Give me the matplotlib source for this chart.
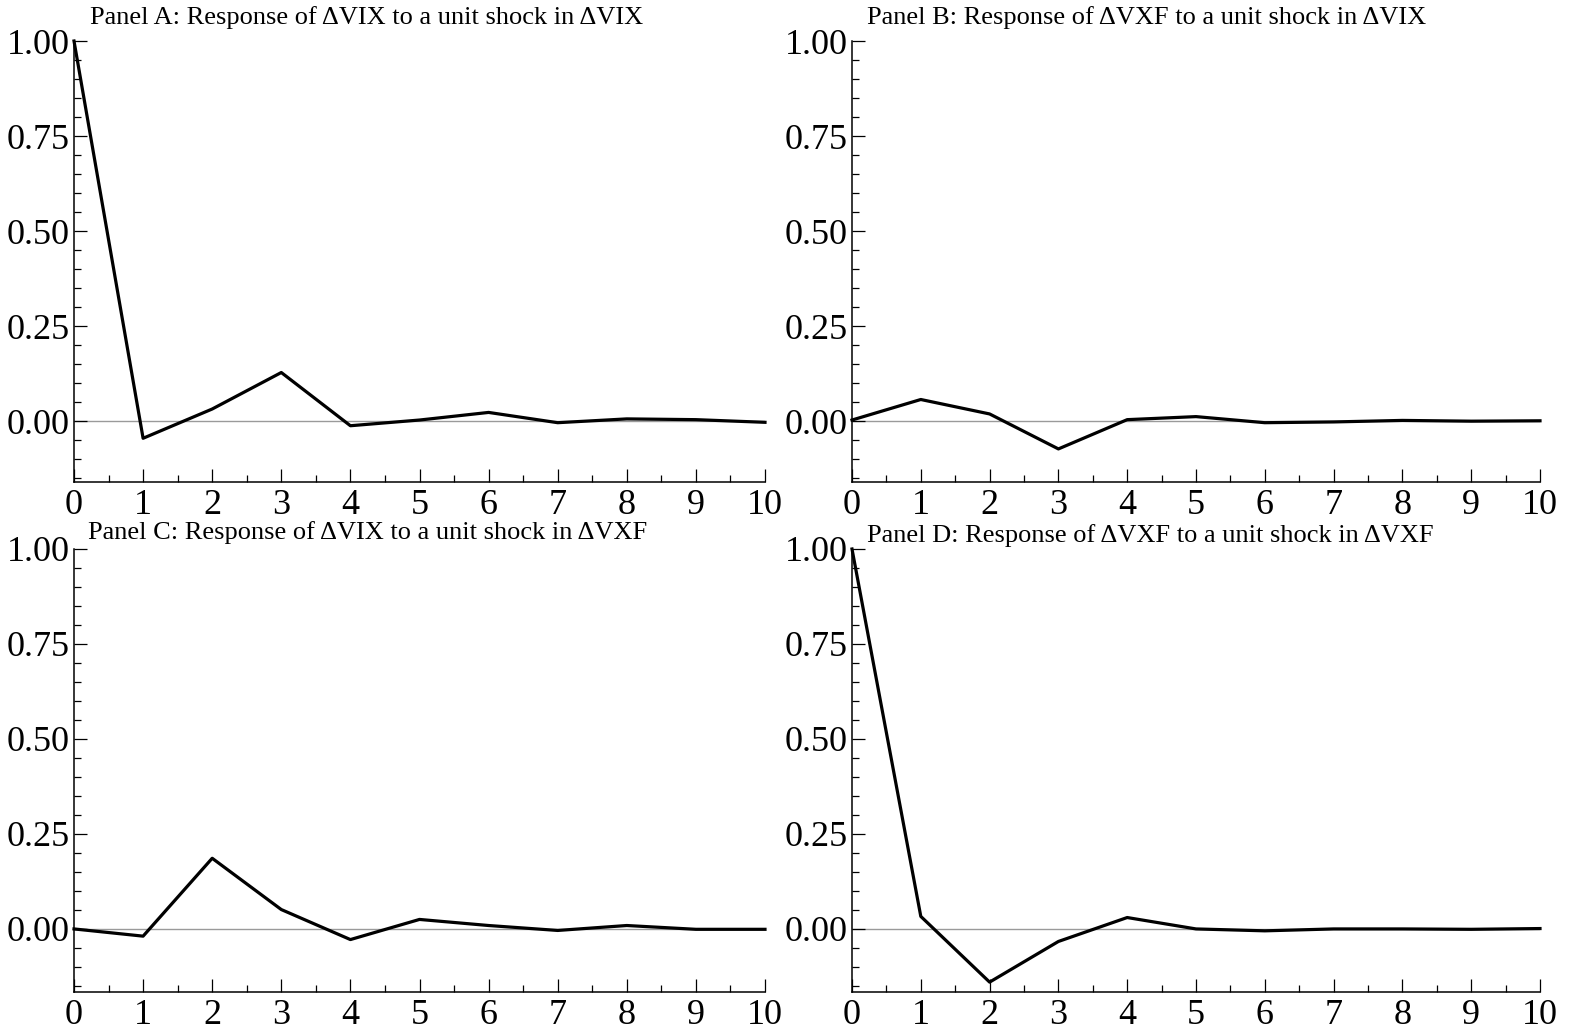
import numpy as np
import matplotlib
matplotlib.use("Agg")
import matplotlib.pyplot as plt
from matplotlib.ticker import MultipleLocator, FixedLocator

plt.rcParams["font.family"] = ["Liberation Serif", "DejaVu Serif"]

# =========================
# Data (impulse responses, horizons 0..10)
# =========================
horizon = list(range(11))

vix_to_vix = [1.00, -0.045, 0.032, 0.128, -0.012, 0.003, 0.023, -0.004, 0.006, 0.004, -0.003]
vxf_to_vix = [0.003, 0.057, 0.019, -0.073, 0.004, 0.012, -0.004, -0.002, 0.002, 0.000, 0.001]
vix_to_vxf = [0.000, -0.019, 0.186, 0.051, -0.028, 0.025, 0.009, -0.004, 0.009, -0.001, -0.001]
vxf_to_vxf = [1.00, 0.033, -0.140, -0.033, 0.030, 0.000, -0.005, 0.000, 0.000, -0.001, 0.001]

titles = [
    "Panel A: Response of \u0394VIX to a unit shock in \u0394VIX",
    "Panel B: Response of \u0394VXF to a unit shock in \u0394VIX",
    "Panel C: Response of \u0394VIX to a unit shock in \u0394VXF",
    "Panel D: Response of \u0394VXF to a unit shock in \u0394VXF",
]
series = [vix_to_vix, vxf_to_vix, vix_to_vxf, vxf_to_vxf]
yticks = [0.0, 0.25, 0.5, 0.75, 1.0]
ytick_labels = ["0.00", "0.25", "0.50", "0.75", "1.00"]

W, H = 1576, 1034
fig = plt.figure(figsize=(W / 100, H / 100), dpi=100)

# axes boxes in pixels: left, right, top, bottom
boxes = [
    (74, 765, 41, 482),
    (852, 1540, 41, 482),
    (74, 765, 549, 992),
    (852, 1540, 549, 992),
]
ymins = [-0.16, -0.16, -0.166, -0.166]
title_pos = [(90, 18), (867, 18), (88, 533), (867, 536)]

for i in range(4):
    l, r, t, b = boxes[i]
    ax = fig.add_axes([l / W, 1 - b / H, (r - l) / W, (b - t) / H])
    ax.axhline(0, color="#9a9a9a", lw=1.0, zorder=1)
    ax.plot(horizon, series[i], color="black", lw=2.3, zorder=3, clip_on=False)

    ax.set_xlim(0, 10)
    ax.set_ylim(ymins[i], 1.0)
    ax.spines["top"].set_visible(False)
    ax.spines["right"].set_visible(False)
    for s in ["left", "bottom"]:
        ax.spines[s].set_linewidth(1.1)

    ax.xaxis.set_major_locator(MultipleLocator(1))
    ax.xaxis.set_minor_locator(MultipleLocator(0.5))
    ax.yaxis.set_major_locator(FixedLocator(yticks))
    ax.set_yticklabels(ytick_labels)
    ax.yaxis.set_minor_locator(MultipleLocator(0.05))

    ax.tick_params(which="major", direction="in", length=9.5, width=0.9,
                   labelsize=26, pad=3)
    ax.tick_params(which="minor", direction="in", length=5, width=0.9)
    ax.tick_params(axis="x", which="major", pad=5)

    tx, ty = title_pos[i]
    fig.text(tx / W, 1 - ty / H, titles[i], fontsize=19, ha="left", va="center")

fig.savefig("out.png", dpi=100)
